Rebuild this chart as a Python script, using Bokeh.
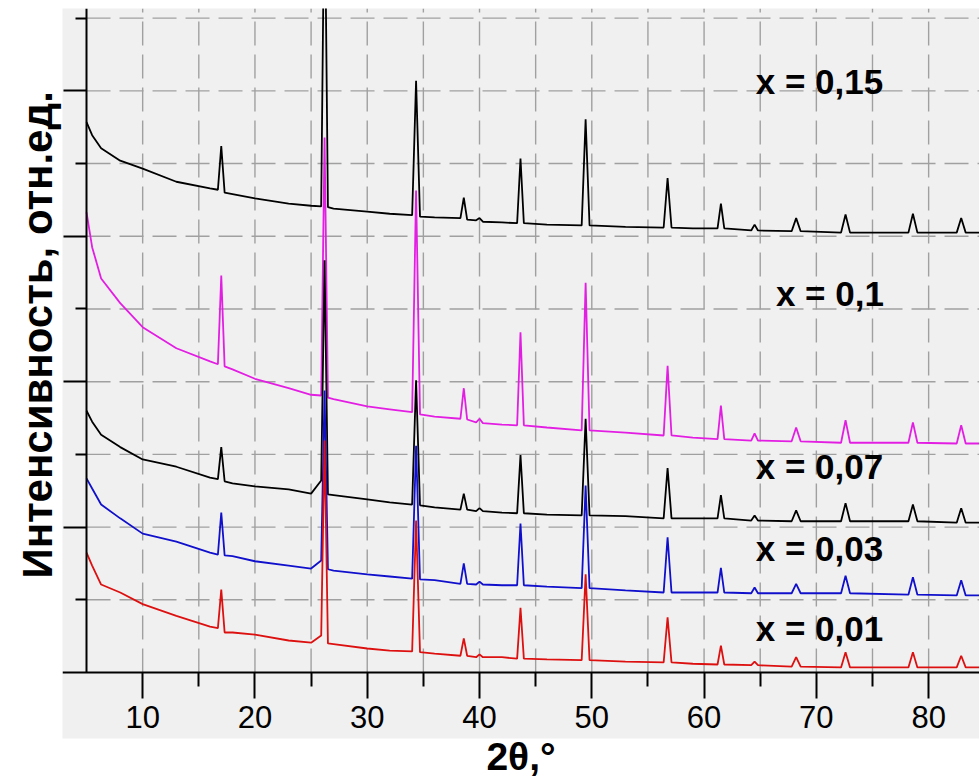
from bokeh.plotting import figure
from bokeh.models import LinearAxis, FixedTicker, Range1d, Title
from bokeh.embed import file_html
from bokeh.resources import INLINE
from bokeh.core.properties import value

# ---- data ----
two_theta = [5.0, 5.5, 6.3, 8.0, 10.0, 13.0, 16.0, 16.7, 17.0, 17.3, 18.0, 20.0, 23.0, 25.0,
             25.9, 26.2, 26.5, 27.0, 30.0, 32.0, 34.0, 34.35, 34.7, 36.0, 38.3, 38.6, 38.9,
             39.7, 40.0, 40.3, 42.0, 43.35, 43.65, 43.95, 46.0, 49.1, 49.45, 49.8, 53.0,
             56.4, 56.75, 57.1, 59.0, 61.2, 61.5, 61.8, 64.2, 64.5, 64.8, 67.8, 68.2, 68.6,
             72.2, 72.6, 73.0, 78.2, 78.6, 79.0, 82.5, 82.9, 83.3, 84.8]

int_015 = [757, 739, 721, 704, 693, 675, 666, 664, 724, 660, 658, 652, 645, 642, 641, 1100,
           640, 638, 634, 631, 629, 814, 627, 626, 625, 653, 623, 622, 625, 620, 619, 618,
           707, 618, 616, 615, 761, 615, 613, 612, 680, 612, 611, 611, 645, 611, 608, 616,
           608, 607, 625, 607, 605, 630, 605, 605, 631, 605, 605, 625, 605, 605]
int_010 = [633, 585, 542, 508, 475, 446, 428, 424, 546, 421, 417, 404, 391, 382, 381, 736,
           378, 376, 366, 362, 358, 663, 355, 352, 349, 391, 348, 344, 349, 343, 341, 340,
           468, 340, 337, 333, 536, 333, 330, 326, 422, 326, 323, 321, 367, 321, 319, 329,
           319, 318, 337, 318, 316, 347, 316, 316, 344, 316, 315, 340, 315, 315]
int_007 = [360, 345, 327, 310, 293, 283, 268, 266, 310, 263, 260, 256, 252, 246, 264, 567,
           245, 244, 238, 234, 231, 402, 230, 227, 224, 246, 224, 222, 226, 222, 220, 219,
           299, 219, 217, 216, 349, 216, 215, 212, 281, 212, 212, 212, 244, 212, 209, 216,
           209, 208, 223, 208, 208, 233, 208, 208, 231, 208, 206, 226, 206, 206]
int_003 = [267, 253, 231, 212, 191, 180, 165, 162, 220, 161, 160, 153, 147, 143, 154, 388,
           142, 140, 135, 132, 129, 312, 128, 127, 122, 150, 122, 121, 125, 121, 120, 120,
           205, 120, 118, 116, 257, 116, 113, 110, 186, 110, 110, 110, 144, 110, 109, 117,
           109, 109, 122, 109, 109, 133, 109, 107, 131, 107, 106, 127, 106, 106]
int_001 = [165, 147, 121, 110, 94, 78, 63, 61, 114, 55, 55, 52, 44, 41, 51, 319,
           40, 39, 33, 30, 29, 209, 28, 26, 23, 47, 23, 21, 25, 21, 21, 19,
           89, 19, 18, 17, 135, 17, 15, 14, 76, 14, 12, 11, 37, 11, 10, 15,
           10, 8, 21, 8, 7, 28, 7, 7, 28, 7, 7, 23, 7, 7]

series = [int_015, int_010, int_007, int_003, int_001]
series_colors = ["#000000", "#e31ee3", "#000000", "#1010cc", "#dd1010"]
series_labels = ["x = 0,15", "x = 0,1", "x = 0,07", "x = 0,03", "x = 0,01"]

x_major = [10, 20, 30, 40, 50, 60, 70, 80]
x_minor = [15, 25, 35, 45, 55, 65, 75]
y_major = [200, 400, 600, 800]
y_minor = [100, 300, 500, 700, 900]

# layout constants (not data)
label_x = [64.6, 66.4, 64.6, 64.6, 64.6]
label_y = [813, 521, 284, 171, 61]
X0, X1 = 2.86, 84.53
Y0, Y1 = -90.8, 913.3
AXIS_X = 5
FONT = "Liberation Sans"

p = figure(width=979, height=783, x_range=Range1d(X0, X1), y_range=Range1d(Y0, Y1),
           output_backend="svg", toolbar_location=None,
           min_border_left=62, min_border_right=0, min_border_top=8, min_border_bottom=45,
           background_fill_color="#f0f0f0", border_fill_color="white",
           outline_line_color=None)
p.grid.visible = False

# grid (dashed), only inside the data area
grid_x = sorted(x_major + x_minor)
grid_y = sorted(y_major + y_minor)
p.segment(x0=grid_x, y0=[0] * len(grid_x), x1=grid_x, y1=[Y1] * len(grid_x),
          line_color="#a0a0a0", line_width=1.4, line_dash="24 9")
p.segment(x0=[AXIS_X] * len(grid_y), y0=grid_y, x1=[X1] * len(grid_y), y1=grid_y,
          line_color="#a0a0a0", line_width=1.4, line_dash="24 9")

# x tick axis at y=0
xa = p.xaxis[0]
xa.fixed_location = 0
xa.ticker = FixedTicker(ticks=x_major, minor_ticks=x_minor)
xa.axis_line_width = 2
xa.major_tick_line_width = 2
xa.minor_tick_line_width = 2
xa.major_tick_in = 0
xa.minor_tick_in = 0
xa.major_tick_out = 26
xa.minor_tick_out = 14
xa.major_label_text_font = FONT
xa.major_label_text_font_size = "31px"
xa.major_label_text_color = "black"
xa.major_label_standoff = 8

# y tick axis at x=5
ya = p.yaxis[0]
ya.fixed_location = AXIS_X
ya.bounds = (0, Y1)
ya.ticker = FixedTicker(ticks=y_major, minor_ticks=y_minor)
ya.major_label_overrides = {t: "" for t in y_major}
ya.axis_line_width = 2
ya.major_tick_line_width = 2
ya.minor_tick_line_width = 2
ya.major_tick_in = 0
ya.minor_tick_in = 0
ya.major_tick_out = 23
ya.minor_tick_out = 11

# x label axis in the white border
xl = LinearAxis(axis_label="2θ,°", ticker=FixedTicker(ticks=[]),
                axis_line_color=None, major_tick_line_color=None,
                minor_tick_line_color=None, major_tick_out=0, minor_tick_out=0,
                major_tick_in=0, minor_tick_in=0, major_label_standoff=0,
                axis_label_standoff=-4, axis_label_text_font=FONT,
                axis_label_text_font_style="bold", axis_label_text_font_size="39px",
                axis_label_text_color="black")
p.add_layout(xl, "below")

# empty spacer between frame and y title
spacer = LinearAxis(ticker=FixedTicker(ticks=[]), axis_line_color=None,
                    major_tick_line_color=None, minor_tick_line_color=None,
                    major_tick_out=8, minor_tick_out=0, major_tick_in=0,
                    minor_tick_in=0, major_label_standoff=0)
p.add_layout(spacer, "left")

# y label as a left title, moved up to the data area
yt = Title(text="Интенсивность, отн.ед.", align="left", offset=160,
           text_font=FONT, text_font_style="bold", text_font_size="42px",
           text_color="black", standoff=4)
p.add_layout(yt, "left")

for ys, c in zip(series, series_colors):
    p.line(two_theta, ys, line_color=c, line_width=1.8)

p.text(x=label_x, y=label_y, text=series_labels, text_font=value(FONT),
       text_font_style="bold", text_font_size="35px", text_baseline="middle",
       text_align="left", text_color="black")

open("out.html", "w").write(file_html(p, INLINE))
